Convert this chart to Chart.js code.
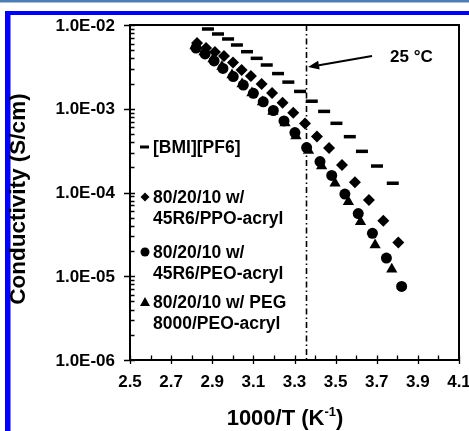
<!DOCTYPE html>
<html><head><meta charset="utf-8">
<script src="https://cdn.jsdelivr.net/npm/chart.js@4.4.1/dist/chart.umd.min.js"></script>
<style>html,body{margin:0;padding:0;background:#fff;overflow:hidden}#wrap{position:relative;width:469px;height:431px}</style>
</head><body><div id="wrap"><canvas id="c" width="469" height="431"></canvas></div>
<script>
// ---- data ----
const xTicks = [2.5, 2.7, 2.9, 3.1, 3.3, 3.5, 3.7, 3.9, 4.1];
const xTickLabels = ["2.5", "2.7", "2.9", "3.1", "3.3", "3.5", "3.7", "3.9", "4.1"];
const yTicks = [1e-2, 1e-3, 1e-4, 1e-5, 1e-6];
const yTickLabels = ["1.0E-02", "1.0E-03", "1.0E-04", "1.0E-05", "1.0E-06"];

const bmiX = [2.879, 2.928, 2.977, 3.020, 3.069, 3.116, 3.165, 3.220, 3.270, 3.327, 3.384, 3.444, 3.504, 3.569, 3.628, 3.701, 3.778];
const bmiY = [8.96e-3, 7.81e-3, 6.81e-3, 5.77e-3, 4.80e-3, 4.00e-3, 3.33e-3, 2.63e-3, 2.08e-3, 1.61e-3, 1.23e-3, 9.3e-4, 6.7e-4, 4.64e-4, 3.10e-4, 2.07e-4, 1.29e-4];

const ppoX = [2.826, 2.870, 2.913, 2.957, 3.001, 3.043, 3.088, 3.140, 3.191, 3.242, 3.294, 3.351, 3.409, 3.468, 3.531, 3.594, 3.662, 3.732, 3.805];
const ppoY = [6.09e-3, 5.31e-3, 4.76e-3, 4.27e-3, 3.57e-3, 2.90e-3, 2.46e-3, 1.98e-3, 1.54e-3, 1.18e-3, 8.97e-4, 6.67e-4, 4.67e-4, 3.40e-4, 2.13e-4, 1.33e-4, 8.13e-5, 4.60e-5, 2.53e-5];

const peoX = [2.821, 2.865, 2.909, 2.952, 3.002, 3.051, 3.100, 3.148, 3.197, 3.249, 3.302, 3.359, 3.424, 3.481, 3.545, 3.610, 3.679, 3.747, 3.821];
const peoY = [5.31e-3, 4.51e-3, 3.72e-3, 3.03e-3, 2.42e-3, 1.92e-3, 1.53e-3, 1.21e-3, 9.53e-4, 7.15e-4, 5.20e-4, 3.44e-4, 2.34e-4, 1.60e-4, 9.59e-5, 5.61e-5, 3.26e-5, 1.65e-5, 7.55e-6];

const pegX = [2.816, 2.860, 2.904, 2.947, 2.996, 3.045, 3.093, 3.144, 3.195, 3.254, 3.307, 3.368, 3.432, 3.497, 3.562, 3.621, 3.692, 3.773];
const pegY = [5.61e-3, 4.76e-3, 3.93e-3, 3.19e-3, 2.53e-3, 1.98e-3, 1.54e-3, 1.20e-3, 9.27e-4, 6.76e-4, 4.73e-4, 3.17e-4, 2.07e-4, 1.29e-4, 7.76e-5, 4.48e-5, 2.36e-5, 1.21e-5];

const seriesNames = ["[BMI][PF6]", "80/20/10 w/ 45R6/PPO-acryl", "80/20/10 w/ 45R6/PEO-acryl", "80/20/10 w/ PEG 8000/PEO-acryl"];
const legendLines = [["[BMI][PF6]"], ["80/20/10 w/", "45R6/PPO-acryl"], ["80/20/10 w/", "45R6/PEO-acryl"], ["80/20/10 w/ PEG", "8000/PEO-acryl"]];
const refX = 3.354;           // 25 °C
const refLabel = "25 °C";
const arrowFrom = [3.677, 4.27e-3];
const arrowTo = [3.366, 3.15e-3];
const refLabelPos = [3.765, 4.15e-3];
const xTitle = "1000/T (K";
const yTitle = "Conductivity (S/cm)";

const pts = (xs, ys) => xs.map((x, i) => ({x: x, y: ys[i]}));
const FONT = '"Liberation Sans", Arial, sans-serif';

const decor = {
  id: 'decor',
  beforeDraw(chart) {
    const ctx = chart.ctx;
    ctx.save();
    ctx.fillStyle = '#fff';
    ctx.fillRect(0, 0, chart.width, chart.height);
    ctx.fillStyle = '#4f7db8';
    ctx.fillRect(0, 0, chart.width, 2.5);
    ctx.fillStyle = '#0000ff';
    ctx.fillRect(5, 11, chart.width - 5, 4);
    ctx.fillRect(5, 11, 5.5, chart.height - 11);
    ctx.restore();
  },
  beforeDatasetsDraw(chart) {
    const ctx = chart.ctx, xs = chart.scales.x, ys = chart.scales.y, a = chart.chartArea;
    ctx.save();
    // dash-dot reference line
    const rx = Math.round(xs.getPixelForValue(refX)) + 0.5;
    ctx.strokeStyle = '#000';
    ctx.lineWidth = 1.6;
    ctx.setLineDash([6, 3, 1.5, 3]);
    ctx.beginPath(); ctx.moveTo(rx, a.top); ctx.lineTo(rx, a.bottom); ctx.stroke();
    ctx.setLineDash([]);
    // arrow
    const x1 = xs.getPixelForValue(arrowFrom[0]), y1 = ys.getPixelForValue(arrowFrom[1]);
    const x2 = xs.getPixelForValue(arrowTo[0]), y2 = ys.getPixelForValue(arrowTo[1]);
    const ang = Math.atan2(y2 - y1, x2 - x1);
    const hl = 11, hw = 4.5;
    const bx = x2 - hl * Math.cos(ang), by = y2 - hl * Math.sin(ang);
    ctx.lineWidth = 2;
    ctx.beginPath(); ctx.moveTo(x1, y1); ctx.lineTo(bx, by); ctx.stroke();
    ctx.fillStyle = '#000';
    ctx.beginPath();
    ctx.moveTo(x2, y2);
    ctx.lineTo(bx + hw * Math.sin(ang), by - hw * Math.cos(ang));
    ctx.lineTo(bx - hw * Math.sin(ang), by + hw * Math.cos(ang));
    ctx.closePath(); ctx.fill();
    // label
    ctx.font = 'bold 17px ' + FONT;
    ctx.textAlign = 'left'; ctx.textBaseline = 'middle';
    ctx.fillText(refLabel, xs.getPixelForValue(refLabelPos[0]), ys.getPixelForValue(refLabelPos[1]));
    ctx.restore();
  },
  afterDraw(chart) {
    const ctx = chart.ctx, xs = chart.scales.x, ys = chart.scales.y, a = chart.chartArea;
    ctx.save();
    ctx.strokeStyle = '#000';
    ctx.fillStyle = '#000';
    // frame
    ctx.lineWidth = 2;
    ctx.strokeRect(a.left, a.top, a.right - a.left, a.bottom - a.top);
    // y ticks
    ctx.lineWidth = 1.3;
    ctx.beginPath();
    for (let e = -6; e <= -3; e++) {
      for (let m = 2; m <= 9; m++) {
        const py = Math.round(ys.getPixelForValue(m * Math.pow(10, e))) + 0.5;
        ctx.moveTo(a.left, py); ctx.lineTo(a.left + 4.5, py);
      }
    }
    yTicks.forEach(v => {
      const py = Math.round(ys.getPixelForValue(v)) + 0.5;
      ctx.moveTo(a.left - 6, py); ctx.lineTo(a.left + 5, py);
    });
    // x ticks
    for (let i = 0; i <= 16; i++) {
      const v = 2.5 + i * 0.1;
      const px = Math.round(xs.getPixelForValue(v)) + 0.5;
      ctx.moveTo(px, a.bottom); ctx.lineTo(px, a.bottom - 4.5);
    }
    xTicks.forEach(v => {
      const px = Math.round(xs.getPixelForValue(v)) + 0.5;
      ctx.moveTo(px, a.bottom + 4); ctx.lineTo(px, a.bottom - 4.5);
    });
    ctx.stroke();
    // tick labels
    ctx.font = 'bold 17px ' + FONT;
    ctx.textAlign = 'right'; ctx.textBaseline = 'middle';
    yTicks.forEach((v, i) => ctx.fillText(yTickLabels[i], a.left - 15, ys.getPixelForValue(v) + 1));
    ctx.textAlign = 'center';
    xTicks.forEach((v, i) => ctx.fillText(xTickLabels[i], xs.getPixelForValue(v), a.bottom + 22));
    // x title with superscript
    ctx.font = 'bold 22px ' + FONT;
    const w1 = ctx.measureText(xTitle).width;
    ctx.font = 'bold 13px ' + FONT;
    const w2 = ctx.measureText('-1').width;
    ctx.font = 'bold 22px ' + FONT;
    const w3 = ctx.measureText(')').width;
    const tot = w1 + w2 + w3;
    const cx = 285, cy = 419;
    let sx = cx - tot / 2;
    ctx.textAlign = 'left';
    ctx.fillText(xTitle, sx, cy);
    ctx.font = 'bold 13px ' + FONT;
    ctx.fillText('-1', sx + w1, cy - 7);
    ctx.font = 'bold 22px ' + FONT;
    ctx.fillText(')', sx + w1 + w2, cy);
    // y title
    ctx.save();
    ctx.translate(19, 199);
    ctx.rotate(-Math.PI / 2);
    ctx.textAlign = 'center';
    ctx.font = 'bold 22.5px ' + FONT;
    ctx.fillText(yTitle, 0, 0);
    ctx.restore();
    // legend
    ctx.font = 'bold 17.5px ' + FONT;
    ctx.textAlign = 'left';
    const lx = 145, tx = 153;
    const rows = [[147], [197, 218], [252, 273], [302, 323]];
    // marker 0: dash
    ctx.lineWidth = 3;
    ctx.beginPath(); ctx.moveTo(lx - 5, rows[0][0]); ctx.lineTo(lx + 4, rows[0][0]); ctx.stroke();
    // marker 1: diamond
    let my = rows[1][0], r = 4.5;
    ctx.beginPath(); ctx.moveTo(lx, my - r); ctx.lineTo(lx + r, my); ctx.lineTo(lx, my + r); ctx.lineTo(lx - r, my); ctx.closePath(); ctx.fill();
    // marker 2: circle
    my = rows[2][0];
    ctx.beginPath(); ctx.arc(lx, my, 4.5, 0, Math.PI * 2); ctx.fill();
    // marker 3: triangle
    my = rows[3][0];
    ctx.beginPath(); ctx.moveTo(lx, my - 5); ctx.lineTo(lx + 5, my + 4); ctx.lineTo(lx - 5, my + 4); ctx.closePath(); ctx.fill();
    legendLines.forEach((lines, i) => lines.forEach((t, j) => ctx.fillText(t, tx, rows[i][j] + 1)));
    ctx.restore();
  }
};

new Chart(document.getElementById('c'), {
  type: 'scatter',
  data: {
    datasets: [
      {label: seriesNames[0], data: pts(bmiX, bmiY), pointStyle: 'line', pointRadius: 6, borderWidth: 3.5, borderColor: '#000', backgroundColor: '#000'},
      {label: seriesNames[1], data: pts(ppoX, ppoY), pointStyle: 'rectRot', pointRadius: 6, borderWidth: 0, borderColor: '#000', backgroundColor: '#000'},
      {label: seriesNames[2], data: pts(peoX, peoY), pointStyle: 'circle', pointRadius: 5.5, borderWidth: 0, borderColor: '#000', backgroundColor: '#000'},
      {label: seriesNames[3], data: pts(pegX, pegY), pointStyle: 'triangle', pointRadius: 6.5, borderWidth: 0, borderColor: '#000', backgroundColor: '#000'}
    ]
  },
  options: {
    responsive: false,
    animation: false,
    devicePixelRatio: 1,
    layout: {padding: {left: 130, right: 10, top: 25, bottom: 71}},
    plugins: {legend: {display: false}, tooltip: {enabled: false}},
    scales: {
      x: {type: 'linear', min: 2.5, max: 4.1, display: false},
      y: {type: 'logarithmic', min: 1e-6, max: 1e-2, display: false}
    },
    elements: {point: {hoverRadius: 6}}
  },
  plugins: [decor]
});
</script>
</body></html>
